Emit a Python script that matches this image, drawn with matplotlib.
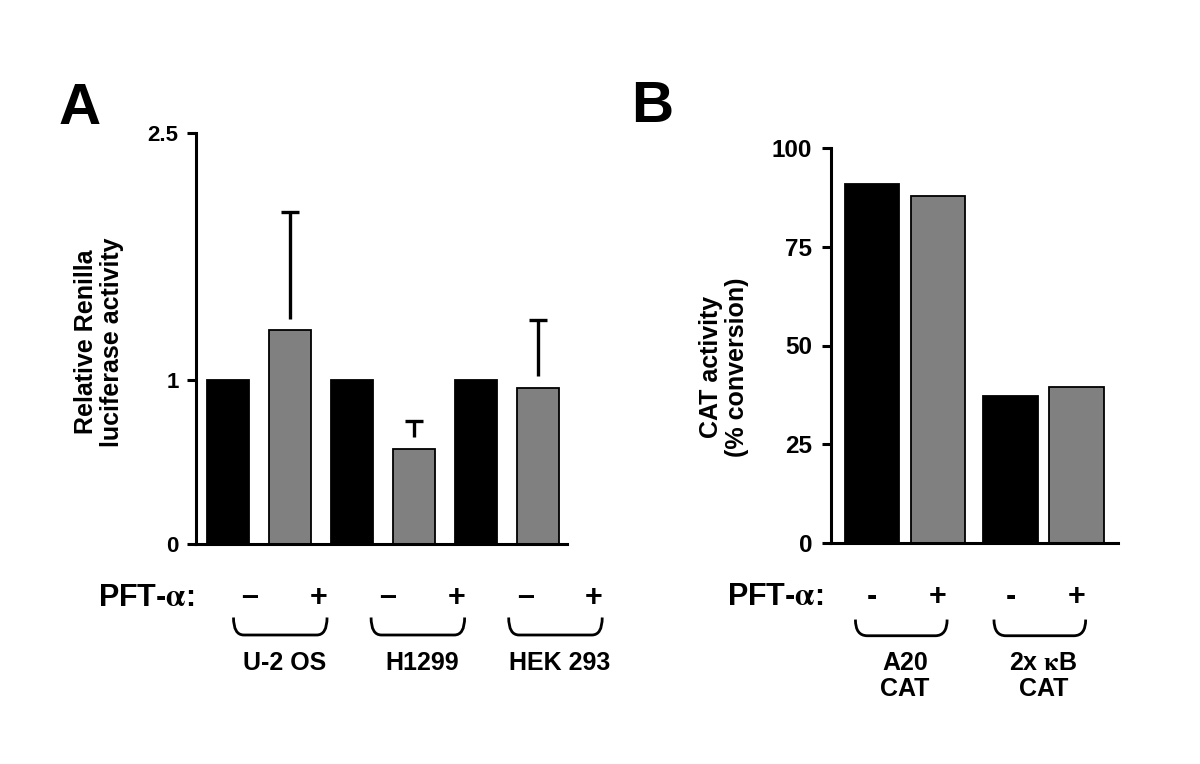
import matplotlib
matplotlib.use("Agg")
import matplotlib.pyplot as plt
from matplotlib.path import Path
from matplotlib.patches import PathPatch
import numpy as np

plt.rcParams['font.family'] = ['Liberation Sans', 'DejaVu Sans']
plt.rcParams['font.weight'] = 'bold'
plt.rcParams['mathtext.fontset'] = 'stix'

# Panel A data: relative Renilla luciferase activity
a_pos = [0, 1, 2, 3, 4, 5]
a_vals = [1.0, 1.3, 1.0, 0.58, 1.0, 0.95]
a_err = [0.0, 0.72, 0.0, 0.17, 0.0, 0.41]
a_treat = ['–', '+', '–', '+', '–', '+']
a_groups = ['U-2 OS', 'H1299', 'HEK 293']
a_yticks = [0, 1, 2.5]

# Panel B data: CAT activity (% conversion)
b_pos = [0, 1, 2.1, 3.1]
b_vals = [90.8, 87.8, 37.2, 39.5]
b_treat = ['-', '+', '-', '+']
b_groups = ['A20\nCAT', '2x $\\mathrm{\\kappa}$B\nCAT']
b_yticks = [0, 25, 50, 75, 100]

colors = ['black', '#808080']
W, H = 1200, 764
fig = plt.figure(figsize=(W / 100, H / 100), dpi=100)


def px_axes(left, top, right, bottom):
    return fig.add_axes([left / W, 1 - bottom / H, (right - left) / W, (bottom - top) / H])


def style_axes(ax, fs, pad):
    for s in ['top', 'right']:
        ax.spines[s].set_visible(False)
    for s in ['left', 'bottom']:
        ax.spines[s].set_linewidth(2.2)
    ax.tick_params(axis='y', length=6.5, width=2.2, labelsize=fs, pad=pad)
    ax.tick_params(axis='x', length=0, labelbottom=False)


def bracket(ax, x0, x1, ytop, ybot, hook):
    verts = [(x0, ytop), (x0, ybot), (x0 + hook, ybot),
             (x1 - hook, ybot), (x1, ybot), (x1, ytop)]
    codes = [Path.MOVETO, Path.CURVE3, Path.CURVE3,
             Path.LINETO, Path.CURVE3, Path.CURVE3]
    ax.add_patch(PathPatch(Path(verts, codes), fill=False, lw=2.0,
                           edgecolor='black', clip_on=False))


# ---------------- Panel A ----------------
axA = px_axes(196, 133, 567, 544)
for i, (x, v) in enumerate(zip(a_pos, a_vals)):
    axA.bar(x, v, width=0.68, color=colors[i % 2],
            edgecolor='black' if i % 2 else colors[0], linewidth=1.3, zorder=2)
for x, v, e in zip(a_pos, a_vals, a_err):
    if e > 0:
        axA.vlines(x, v + 0.07, v + e, color='black', lw=2.4, zorder=3)
        axA.plot(x, v + e, marker='_', ms=13, mew=2.4, color='black', zorder=3)
axA.set_xlim(-0.51, 5.47)
axA.set_ylim(0, 2.5)
axA.set_yticks(a_yticks)
axA.set_yticklabels(['0', '1', '2.5'])
style_axes(axA, 16, 6)
fig.text(99 / W, 1 - 342 / H, 'Relative Renilla\nluciferase activity', rotation=90,
         ha='center', va='center', fontsize=18, fontweight='bold', linespacing=1.1)
fig.text(59 / W, 1 - 109 / H, 'A', fontsize=42, fontweight='bold', ha='left', va='center')

annA = px_axes(196, 575, 640, 700)
annA.set_xlim(-0.785, 5.669)
annA.set_ylim(0, 1)
annA.axis('off')
for x, t in zip(a_pos, a_treat):
    annA.text(x, 0.82, t, ha='center', va='center', fontsize=22, fontweight='bold')
annA.text(-0.8, 0.82, 'PFT-$\\mathrm{\\alpha}$:', ha='right', va='center', fontsize=22,
          fontweight='bold', clip_on=False)
for g, name in enumerate(a_groups):
    x0, x1 = a_pos[2 * g], a_pos[2 * g + 1]
    bracket(annA, x0 - 0.24, x1 + 0.12, 0.66, 0.52, 0.15)
    annA.text((x0 + x1) / 2, 0.30, name, ha='center', va='center', fontsize=18,
              fontweight='bold')

# ---------------- Panel B ----------------
axB = px_axes(831, 148, 1118, 543)
for i, (x, v) in enumerate(zip(b_pos, b_vals)):
    axB.bar(x, v, width=0.83, color=colors[i % 2],
            edgecolor='black' if i % 2 else colors[0], linewidth=1.3, zorder=2)
axB.set_xlim(-0.62, 3.73)
axB.set_ylim(0, 100)
axB.set_yticks(b_yticks)
style_axes(axB, 17.5, 7)
fig.text(724 / W, 1 - 367 / H, 'CAT activity\n(% conversion)', rotation=90,
         ha='center', va='center', fontsize=18, fontweight='bold', linespacing=1.1)
fig.text(631 / W, 1 - 107 / H, 'B', fontsize=42, fontweight='bold', ha='left', va='center')

annB = px_axes(831, 575, 1118, 710)
annB.set_xlim(-0.62, 3.73)
annB.set_ylim(0, 1)
annB.axis('off')
for x, t in zip(b_pos, b_treat):
    annB.text(x, 0.84, t, ha='center', va='center', fontsize=22, fontweight='bold')
annB.text(-0.74, 0.84, 'PFT-$\\mathrm{\\alpha}$:', ha='right', va='center', fontsize=22,
          fontweight='bold', clip_on=False)
for g, name in enumerate(b_groups):
    x0, x1 = b_pos[2 * g], b_pos[2 * g + 1]
    bracket(annB, x0 - 0.25, x1 + 0.14, 0.67, 0.55, 0.18)
    annB.text((x0 + x1) / 2, 0.25, name, ha='center', va='center', fontsize=18,
              fontweight='bold', linespacing=1.1)

fig.savefig('out.png', dpi=100, facecolor='white')
